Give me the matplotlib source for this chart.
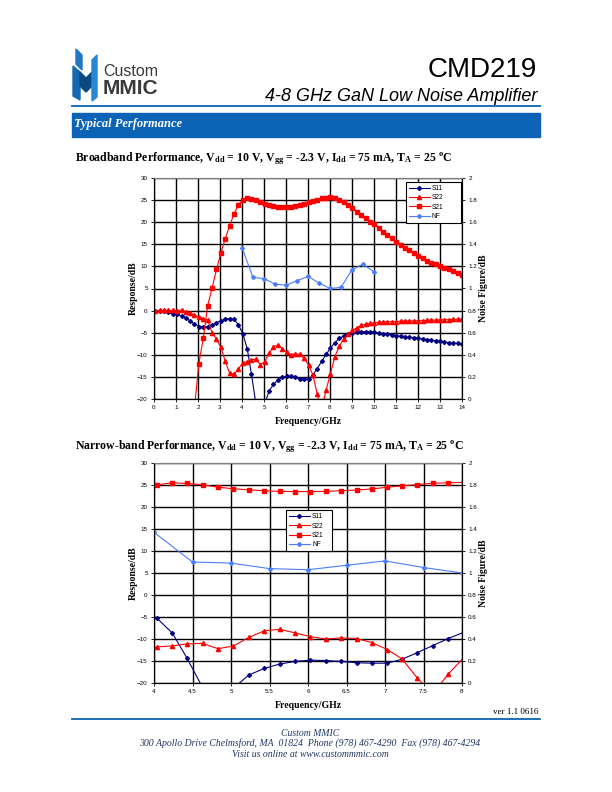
import numpy as np
import matplotlib
matplotlib.use('Agg')
import matplotlib.pyplot as plt
from matplotlib.patches import Rectangle, Polygon
from matplotlib.ticker import FuncFormatter

plt.rcParams['mathtext.fontset'] = 'custom'
plt.rcParams['mathtext.rm'] = 'Liberation Serif:bold'
plt.rcParams['mathtext.it'] = 'Liberation Serif:bold'
plt.rcParams['mathtext.bf'] = 'Liberation Serif:bold'

# swept frequency points (GHz)
freq = [0.05, 0.25, 0.45, 0.65, 0.85, 1.05, 1.25, 1.44, 1.64, 1.84,
        2.04, 2.24, 2.44, 2.64, 2.84, 3.04, 3.24, 3.44, 3.64, 3.84,
        4.04, 4.24, 4.43, 4.63, 4.83, 5.03, 5.23, 5.43, 5.63, 5.83,
        6.03, 6.23, 6.43, 6.63, 6.83, 7.03, 7.22, 7.42, 7.62, 7.82,
        8.02, 8.22, 8.42, 8.62, 8.82, 9.02, 9.22, 9.42, 9.62, 9.82,
        10.01, 10.21, 10.41, 10.61, 10.81, 11.01, 11.21, 11.41, 11.61, 11.81,
        12.01, 12.21, 12.41, 12.61, 12.80, 13.00, 13.20, 13.40, 13.60, 13.80,
        14.00]

s11 = [0.0, -0.15, -0.2, -0.35, -0.7, -0.8, -1.3, -1.7, -2.3, -3.1,
       -3.6, -3.8, -3.6, -3.2, -2.7, -2.3, -2.0, -1.8, -2.0, -3.2,
       -5.3, -8.7, -14.4, -21.0, -26.0, -21.2, -18.2, -16.7, -15.7, -15.1,
       -14.8, -14.9, -15.1, -15.4, -15.5, -15.5, -14.6, -13.1, -11.5, -9.9,
       -8.5, -7.25, -6.3, -5.7, -5.2, -5.0, -4.85, -4.75, -4.75, -4.85,
       -4.9, -5.05, -5.2, -5.35, -5.5, -5.65, -5.8, -5.9, -6.05, -6.1,
       -6.25, -6.4, -6.55, -6.7, -6.8, -6.95, -7.1, -7.25, -7.4, -7.4,
       -7.55]

s22 = [0.0, 0.05, 0.05, 0.05, 0.05, 0.0, 0.1, -0.25, -0.45, -1.1,
       -1.4, -1.85, -2.15, -5.0, -6.45, -8.3, -11.5, -14.2, -14.35, -13.15,
       -11.8, -11.55, -11.1, -11.0, -12.2, -11.6, -9.65, -8.15, -7.8, -8.6,
       -9.45, -10.0, -9.75, -9.9, -10.8, -12.4, -14.5, -18.9, -22.5, -18.0,
       -14.3, -10.4, -8.1, -6.4, -5.2, -4.5, -3.9, -3.3, -3.1, -2.9,
       -2.75, -2.65, -2.6, -2.55, -2.5, -2.5, -2.4, -2.35, -2.35, -2.3,
       -2.3, -2.25, -2.2, -2.15, -2.15, -2.1, -2.05, -2.05, -2.0, -1.95,
       -1.9]

s21 = [-40, -40, -39, -38, -37, -35, -33, -30, -27, -22,
       -12.0, -6.3, 1.1, 5.1, 9.3, 13.1, 16.3, 19.25, 21.9, 24.0,
       25.05, 25.5, 25.35, 25.05, 24.5, 24.15, 23.9, 23.7, 23.55, 23.5,
       23.5, 23.55, 23.7, 23.85, 24.1, 24.5, 24.8, 25.1, 25.4, 25.5,
       25.6, 25.5, 25.0, 24.5, 23.85, 23.2, 22.4, 21.6, 20.9, 20.1,
       19.5, 18.6, 17.7, 17.0, 16.4, 15.6, 14.8, 14.2, 13.6, 13.05,
       12.4, 11.8, 11.2, 10.8, 10.55, 10.1, 9.7, 9.3, 8.9, 8.5,
       8.15]

nf_freq = [4.0, 4.5, 5.0, 5.5, 6.0, 6.5, 7.0, 7.5, 8.0, 8.5, 9.0, 9.5, 10.0]
nf = [1.37, 1.10, 1.09, 1.04, 1.03, 1.07, 1.11, 1.05, 1.00, 1.01, 1.17, 1.22, 1.15]

W, H = 612, 792
BLUE = '#0c63b6'
NAVY = '#000080'
RED = '#ff0000'
NFC = '#4a7dff'
TXT = '#203864'

fig = plt.figure(figsize=(W / 100, H / 100), dpi=100)

# page furniture in pixel coordinates
bg = fig.add_axes([0, 0, 1, 1], zorder=-5)
bg.set_xlim(0, W)
bg.set_ylim(H, 0)
bg.axis('off')

# logo
bg.add_patch(Polygon([(76, 49), (82, 55), (82, 70), (76, 64)], color='#1f78c1'))
bg.add_patch(Polygon([(73, 66), (80, 72), (80, 100), (73, 96)], color='#1668b0'))
bg.add_patch(Polygon([(80, 72), (86, 78), (92, 72), (92, 86), (86, 92), (80, 86)], color='#0b4a80'))
bg.add_patch(Polygon([(92, 60), (97, 55), (97, 97), (92, 101)], color='#2a86d0'))
bg.text(103, 76, 'Custom', family='Liberation Sans', fontsize=11.5, color='#3a3a3a', va='baseline')
bg.text(103, 93.5, 'MMIC', family='Liberation Sans', fontsize=15, weight='bold', color='#3a3a3a', va='baseline')

bg.text(537, 77, 'CMD219', family='Liberation Sans', fontsize=20, ha='right', va='baseline')
bg.text(537, 101, '4-8 GHz GaN Low Noise Amplifier', family='Liberation Sans', style='italic',
        fontsize=13, ha='right', va='baseline')
bg.plot([72, 540], [106, 106], color=BLUE, lw=1.3)
bg.add_patch(Rectangle((72, 113), 468, 24, color=BLUE))
bg.text(74, 126.5, 'Typical Performance', family='Liberation Serif', style='italic', weight='bold',
        fontsize=9, color='white', va='baseline')

title_tail = (r', V$_{\mathrm{dd}}$ = 10 V, V$_{\mathrm{gg}}$ = -2.3 V, I$_{\mathrm{dd}}$ = 75 mA, '
              r'T$_{\mathrm{A}}$ = 25 $^{\mathrm{o}}$C')
bg.text(75, 161, 'Broadband Performance' + title_tail, family='Liberation Serif', weight='bold',
        fontsize=8.5, va='baseline')
bg.text(75, 449, 'Narrow-band Performance' + title_tail, family='Liberation Serif', weight='bold',
        fontsize=8.5, va='baseline')

# footer
bg.text(538, 714, 'ver 1.1 0616', family='Liberation Serif', fontsize=6.5, ha='right', va='baseline')
bg.plot([72, 540], [719, 719], color=BLUE, lw=1.3)
bg.text(310, 736, 'Custom MMIC', family='Liberation Serif', style='italic', fontsize=7,
        color=TXT, ha='center', va='baseline')
bg.text(310, 746, '300 Apollo Drive Chelmsford, MA  01824  Phone (978) 467-4290  Fax (978) 467-4294',
        family='Liberation Serif', style='italic', fontsize=7, color=TXT, ha='center', va='baseline')
bg.text(310, 757, 'Visit us online at www.custommmic.com', family='Liberation Serif', style='italic',
        fontsize=7, color=TXT, ha='center', va='baseline')

gfmt = FuncFormatter(lambda v, p: '%g' % v)


def panel(top, bottom, xmin, xmax, xstep, leg_box):
    ax = fig.add_axes([154 / W, 1 - bottom / H, 308 / W, (bottom - top) / H])
    ax.plot(freq, s11, color=NAVY, marker='D', ms=2.0, lw=0.8, label='S11')
    ax.plot(freq, s22, color=RED, marker='^', ms=3.0, lw=0.8, label='S22')
    ax.plot(freq, s21, color=RED, marker='s', ms=3.4, lw=0.8, label='S21')
    ax.set_xlim(xmin, xmax)
    ax.set_ylim(-20, 30)
    ax.set_xticks(np.arange(xmin, xmax + xstep / 2, xstep))
    ax.set_yticks(np.arange(-20, 31, 5))
    ax.xaxis.set_major_formatter(gfmt)
    ax.grid(True, color='black', lw=1.0)
    ax.tick_params(labelsize=4.5, length=2.5, width=0.6, pad=2)
    for lab in ax.get_xticklabels() + ax.get_yticklabels():
        lab.set_family('Liberation Sans')
    ax.spines['top'].set_color('#808080')
    ax.spines['top'].set_linewidth(0.8)

    ax2 = ax.twinx()
    ax2.plot(nf_freq, nf, color=NFC, marker='D', ms=2.0, lw=0.8, label='NF')
    ax2.set_ylim(0, 2)
    ax2.set_yticks(np.arange(0, 2.01, 0.2))
    ax2.yaxis.set_major_formatter(gfmt)
    ax2.tick_params(labelsize=4.5, length=2.5, width=0.6, pad=2)
    for lab in ax2.get_yticklabels():
        lab.set_family('Liberation Sans')
    ax2.spines['top'].set_color('#808080')
    ax2.spines['top'].set_linewidth(0.8)

    h1, l1 = ax.get_legend_handles_labels()
    h2, l2 = ax2.get_legend_handles_labels()
    leg = ax2.legend(h1 + h2, l1 + l2, loc='upper left', bbox_to_anchor=leg_box, mode='expand',
                     prop={'family': 'Liberation Sans', 'size': 4.8}, fancybox=False,
                     edgecolor='black', framealpha=1, handlelength=3.2, labelspacing=0.35,
                     borderpad=0.45, handletextpad=0.3, borderaxespad=0)
    leg.get_frame().set_linewidth(0.8)

    mid = (top + bottom) / 2
    bg.text(133, mid, 'Response/dB', family='Liberation Serif', weight='bold', fontsize=7,
            rotation=90, ha='center', va='center')
    bg.text(484, mid, 'Noise Figure/dB', family='Liberation Serif', weight='bold', fontsize=7,
            rotation=90, ha='center', va='center')
    bg.text(308, bottom + 22, 'Frequency/GHz', family='Liberation Serif', weight='bold', fontsize=7,
            ha='center', va='center')


panel(178, 399, 0, 14, 1, (0.817, 0.5, 0.179, 0.482))
panel(463, 683, 4, 8, 0.5, (0.428, 0.3, 0.151, 0.485))

plt.savefig('out.png', dpi=100)
